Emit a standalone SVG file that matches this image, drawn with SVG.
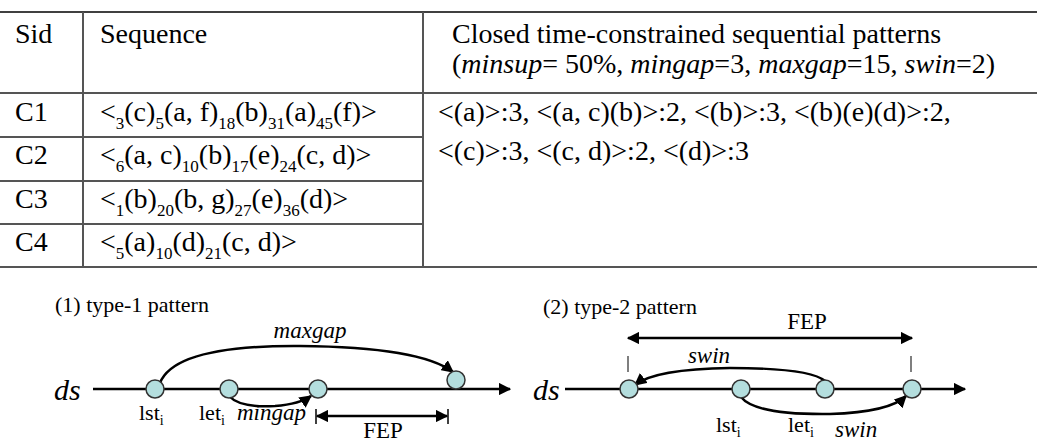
<svg xmlns="http://www.w3.org/2000/svg" width="1037" height="441" viewBox="0 0 1037 441" font-family="'Liberation Serif', 'Times New Roman', serif">
<style>
.g{stroke:#555;stroke-width:2;fill:none}
.ln{stroke:#000;stroke-width:2.5;fill:none}
.c{fill:#b4dede;stroke:#333;stroke-width:1.5}
</style>
<defs>
<marker id="ah" viewBox="0 0 10 10" refX="9" refY="5" markerWidth="5" markerHeight="5" orient="auto-start-reverse"><path d="M0,0L10,5L0,10z" fill="#000"/></marker>
</defs>
<rect x="0" y="0" width="1037" height="441" fill="#fff"/>
<g id="table" font-size="28">
<line x1="0" y1="12" x2="1037" y2="12" stroke="#000" stroke-width="1.5"/>
<line class="g" x1="0" y1="93" x2="1037" y2="93"/>
<line class="g" x1="0" y1="137" x2="423" y2="137"/>
<line class="g" x1="0" y1="181" x2="423" y2="181"/>
<line class="g" x1="0" y1="224" x2="423" y2="224"/>
<line class="g" x1="0" y1="267" x2="1037" y2="267"/>
<line class="g" x1="83" y1="12" x2="83" y2="267"/>
<line class="g" x1="423" y1="12" x2="423" y2="267"/>
<text x="15" y="43">Sid</text>
<text x="100" y="43">Sequence</text>
<text x="452" y="43">Closed time-constrained sequential patterns</text>
<text x="452" y="73">(<tspan font-style="italic">minsup</tspan>= 50%, <tspan font-style="italic">mingap</tspan>=3, <tspan font-style="italic">maxgap</tspan>=15, <tspan font-style="italic">swin</tspan>=2)</text>
<text x="15" y="121">C1</text>
<text x="15" y="164">C2</text>
<text x="15" y="208">C3</text>
<text x="15" y="251">C4</text>
<text x="100" y="121">&lt;<tspan font-size="17" dy="8">3</tspan><tspan dy="-8">(c)</tspan><tspan font-size="17" dy="8">5</tspan><tspan dy="-8">(a, f)</tspan><tspan font-size="17" dy="8">18</tspan><tspan dy="-8">(b)</tspan><tspan font-size="17" dy="8">31</tspan><tspan dy="-8">(a)</tspan><tspan font-size="17" dy="8">45</tspan><tspan dy="-8">(f)&gt;</tspan></text>
<text x="100" y="164">&lt;<tspan font-size="17" dy="8">6</tspan><tspan dy="-8">(a, c)</tspan><tspan font-size="17" dy="8">10</tspan><tspan dy="-8">(b)</tspan><tspan font-size="17" dy="8">17</tspan><tspan dy="-8">(e)</tspan><tspan font-size="17" dy="8">24</tspan><tspan dy="-8">(c, d)&gt;</tspan></text>
<text x="100" y="208">&lt;<tspan font-size="17" dy="8">1</tspan><tspan dy="-8">(b)</tspan><tspan font-size="17" dy="8">20</tspan><tspan dy="-8">(b, g)</tspan><tspan font-size="17" dy="8">27</tspan><tspan dy="-8">(e)</tspan><tspan font-size="17" dy="8">36</tspan><tspan dy="-8">(d)&gt;</tspan></text>
<text x="100" y="251">&lt;<tspan font-size="17" dy="8">5</tspan><tspan dy="-8">(a)</tspan><tspan font-size="17" dy="8">10</tspan><tspan dy="-8">(d)</tspan><tspan font-size="17" dy="8">21</tspan><tspan dy="-8">(c, d)&gt;</tspan></text>
<text x="438" y="121">&lt;(a)&gt;:3, &lt;(a, c)(b)&gt;:2, &lt;(b)&gt;:3, &lt;(b)(e)(d)&gt;:2,</text>
<text x="438" y="160">&lt;(c)&gt;:3, &lt;(c, d)&gt;:2, &lt;(d)&gt;:3</text>
</g>
<g id="connectors">
<line class="ln" x1="93" y1="389" x2="510" y2="389" marker-end="url(#ah)"/>
<path class="ln" d="M160,383 Q175,345 300,346 Q420,347 453,372" marker-end="url(#ah)"/>
<path class="ln" d="M229,396 Q240,408 275,406 Q300,404 311,396" marker-end="url(#ah)"/>
<line x1="316" y1="409" x2="316" y2="424" stroke="#000" stroke-width="1.5"/>
<line x1="448" y1="409" x2="448" y2="424" stroke="#000" stroke-width="1.5"/>
<line class="ln" x1="317" y1="416" x2="447" y2="416" marker-start="url(#ah)" marker-end="url(#ah)"/>
<line class="ln" x1="565" y1="389" x2="965" y2="389" marker-end="url(#ah)"/>
<line class="ln" x1="628" y1="338" x2="912" y2="338" marker-start="url(#ah)" marker-end="url(#ah)"/>
<line x1="628" y1="356" x2="628" y2="372" stroke="#555" stroke-width="1.5"/>
<line x1="911" y1="356" x2="911" y2="372" stroke="#555" stroke-width="1.5"/>
<path class="ln" d="M825,381 Q810,368 730,368 Q655,369 635,385" marker-end="url(#ah)"/>
<path class="ln" d="M741,397 Q755,415 830,414 Q890,412 906,396" marker-end="url(#ah)"/>
</g>
<g id="left">
<text x="55" y="312" font-size="22">(1) type-1 pattern</text>
<text x="54" y="400" font-size="30" font-style="italic">ds</text>
<circle class="c" cx="155" cy="389" r="9"/>
<circle class="c" cx="229" cy="389" r="9"/>
<circle class="c" cx="318" cy="389" r="9"/>
<circle class="c" cx="456" cy="380" r="9"/>
<text x="310" y="338" text-anchor="middle" font-size="23" font-style="italic">maxgap</text>
<text x="139" y="420" font-size="22">lst<tspan font-size="14" dy="5">i</tspan></text>
<text x="199" y="420" font-size="22">let<tspan font-size="14" dy="5">i</tspan></text>
<text x="237" y="420" font-size="23" font-style="italic">mingap</text>
<text x="383" y="438" text-anchor="middle" font-size="23">FEP</text>
</g>
<g id="right">
<text x="543" y="314" font-size="22">(2) type-2 pattern</text>
<text x="533" y="400" font-size="30" font-style="italic">ds</text>
<circle class="c" cx="629" cy="389" r="9"/>
<circle class="c" cx="741" cy="389" r="9"/>
<circle class="c" cx="825" cy="389" r="9"/>
<circle class="c" cx="912" cy="389" r="9"/>
<text x="807" y="329" text-anchor="middle" font-size="23">FEP</text>
<text x="709" y="363" text-anchor="middle" font-size="23" font-style="italic">swin</text>
<text x="716" y="432" font-size="22">lst<tspan font-size="14" dy="5">i</tspan></text>
<text x="788" y="432" font-size="22">let<tspan font-size="14" dy="5">i</tspan></text>
<text x="835" y="437" font-size="23" font-style="italic">swin</text>
</g>
</svg>
